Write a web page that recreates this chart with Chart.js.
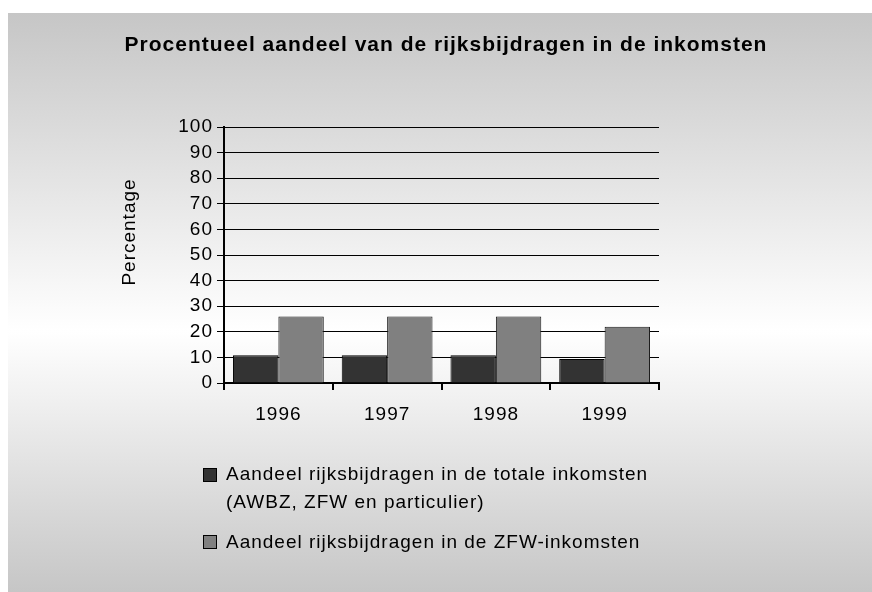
<!DOCTYPE html>
<html><head><meta charset="utf-8">
<script src="https://cdn.jsdelivr.net/npm/chart.js@4/dist/chart.umd.min.js"></script>
<style>html,body{margin:0;padding:0;background:#fff;overflow:hidden}#c{display:block}</style>
</head><body>
<canvas id="c" width="872" height="592"></canvas>
<script>
const chartTitle = 'Procentueel aandeel van de rijksbijdragen in de inkomsten';
const yAxisTitle = 'Percentage';
const categories = ['1996', '1997', '1998', '1999'];
const seriesTotalLabel = ['Aandeel rijksbijdragen in de totale inkomsten', '(AWBZ, ZFW en particulier)'];
const seriesTotal = [10.8, 10.8, 10.8, 9.4];
const seriesZfwLabel = ['Aandeel rijksbijdragen in de ZFW-inkomsten'];
const seriesZfw = [26, 26, 26, 22];
const yMin = 0, yMax = 100, yStep = 10;

const FAMILY = '"Liberation Sans", Arial, Helvetica, sans-serif';
const legendLines = [seriesTotalLabel, seriesZfwLabel];

const deco = {
  id: 'deco',
  beforeUpdate(chart) { chart.ctx.letterSpacing = '1px'; },
  beforeDraw(chart) {
    const ctx = chart.ctx;
    ctx.save();
    const g = ctx.createLinearGradient(0, 13, 0, 592);
    g.addColorStop(0, '#c6c6c6');
    g.addColorStop(0.55, '#ffffff');
    g.addColorStop(1, '#c6c6c6');
    ctx.fillStyle = g;
    ctx.fillRect(8, 13, 864, 579);
    ctx.restore();
    ctx.letterSpacing = '1px';
  },
  afterDraw(chart) {
    const ctx = chart.ctx;
    ctx.save();
    ctx.letterSpacing = '1px';
    ctx.fillStyle = '#000';
    // title
    ctx.font = 'bold 21px ' + FAMILY;
    ctx.textAlign = 'center';
    ctx.textBaseline = 'alphabetic';
    ctx.fillText(chartTitle, 446, 51);
    // y axis title
    ctx.font = '19px ' + FAMILY;
    ctx.save();
    ctx.translate(135, 232);
    ctx.rotate(-Math.PI / 2);
    ctx.fillText(yAxisTitle, 0, 0);
    ctx.restore();
    // legend
    ctx.textAlign = 'left';
    const sqTops = [468, 535];
    const baselines = [[480, 508], [548]];
    chart.data.datasets.forEach((ds, i) => {
      ctx.fillStyle = ds.backgroundColor;
      ctx.fillRect(203.5, sqTops[i] + 0.5, 13, 13);
      ctx.strokeStyle = '#000';
      ctx.lineWidth = 1;
      ctx.strokeRect(203.5, sqTops[i] + 0.5, 13, 13);
      ctx.fillStyle = '#000';
      legendLines[i].forEach((t, j) => ctx.fillText(t, 226, baselines[i][j]));
    });
    ctx.restore();
  }
};

new Chart(document.getElementById('c'), {
  type: 'bar',
  data: {
    labels: categories,
    datasets: [
      { label: seriesTotalLabel.join(' '), data: seriesTotal, backgroundColor: '#333333', borderColor: '#000000', borderWidth: 1, categoryPercentage: 0.835, barPercentage: 1 },
      { label: seriesZfwLabel.join(' '), data: seriesZfw, backgroundColor: '#808080', borderColor: '#1a1a1a', borderWidth: 1, categoryPercentage: 0.835, barPercentage: 1 }
    ]
  },
  options: {
    responsive: false,
    animation: false,
    devicePixelRatio: 1,
    layout: { padding: { left: 178, right: 213, top: 127, bottom: 164 } },
    plugins: { legend: { display: false }, title: { display: false }, tooltip: { enabled: false } },
    scales: {
      x: {
        grid: { display: true, drawOnChartArea: false, drawTicks: true, tickLength: 7, color: '#000', lineWidth: 2, offset: true },
        border: { display: true, color: '#000', width: 2 },
        ticks: { font: { size: 19, family: FAMILY }, color: '#000', padding: 13 },
        afterFit(s) { s.height = 45; }
      },
      y: {
        min: yMin, max: yMax,
        ticks: { stepSize: yStep, autoSkip: false, font: { size: 19, family: FAMILY }, color: '#000', padding: 4 },
        grid: { color: '#000', lineWidth: 1, tickLength: 7, drawTicks: true },
        border: { display: true, color: '#000', width: 2 },
        afterFit(s) { s.width = 46; }
      }
    }
  },
  plugins: [deco]
});
</script>
</body></html>
